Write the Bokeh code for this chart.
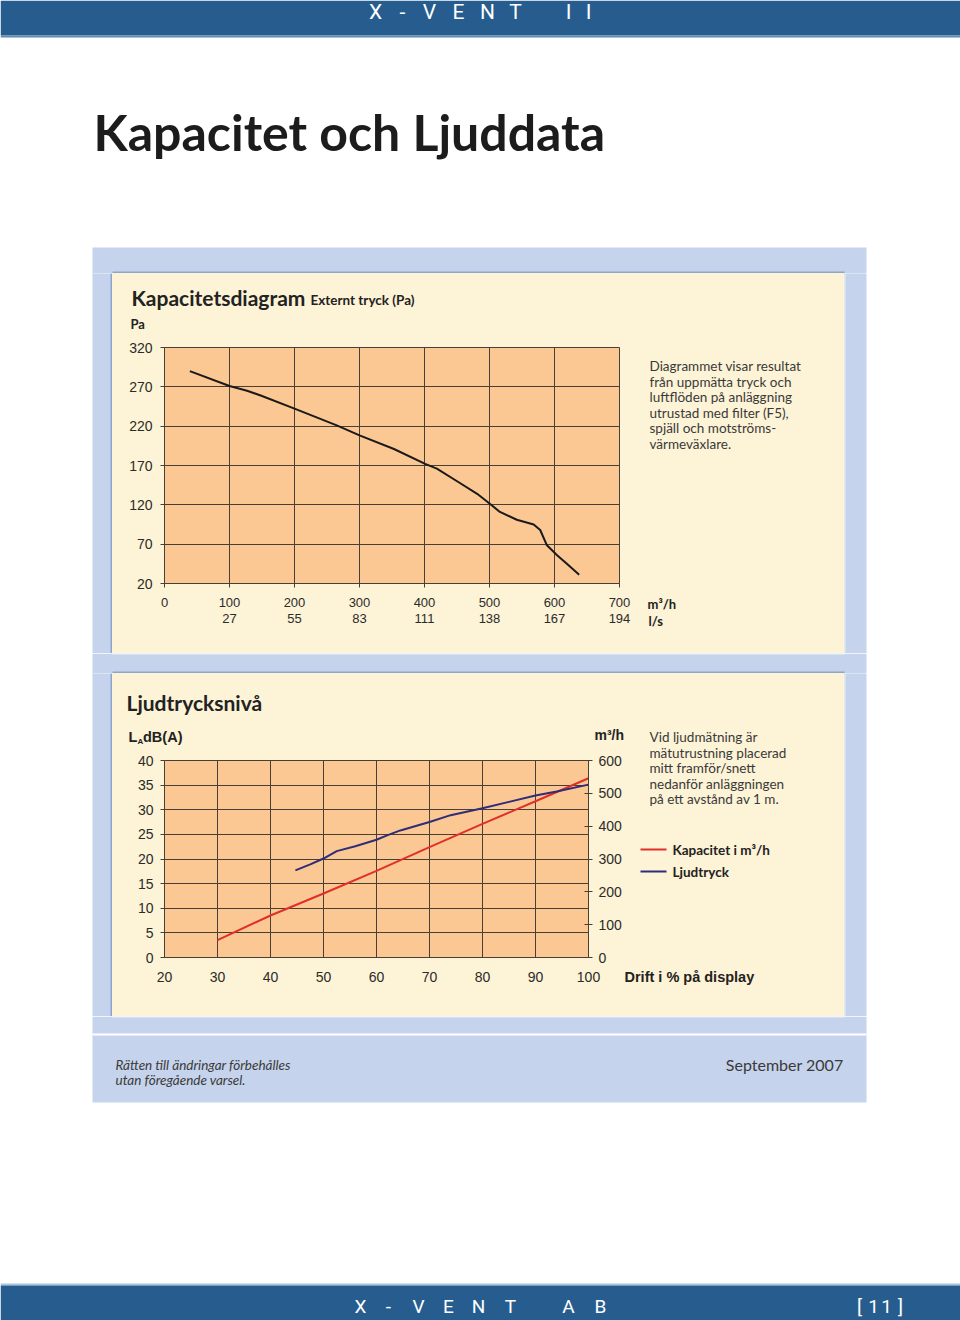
from bokeh.plotting import figure
from bokeh.layouts import column, row
from bokeh.models import Range1d, LinearAxis, FixedTicker
from bokeh.core.properties import value
from bokeh.embed import file_html
from bokeh.resources import INLINE

# ---------------- data ----------------
flow_ticks = [0, 100, 200, 300, 400, 500, 600, 700]
flow_ls_labels = ["", "27", "55", "83", "111", "138", "167", "194"]
pressure_ticks = [20, 70, 120, 170, 220, 270, 320]
curve_flow = [39, 100, 127, 148, 201, 265, 301, 353, 401, 419, 452, 481, 501,
              516, 542, 568, 578, 588, 604, 619, 638]
curve_pa = [290, 271, 265, 259, 242, 221, 208, 191, 172, 166, 149, 134, 121,
            111, 101, 95, 88, 69, 56, 45, 31]

drift_ticks = [20, 30, 40, 50, 60, 70, 80, 90, 100]
db_ticks = [0, 5, 10, 15, 20, 25, 30, 35, 40]
cap_ticks = [0, 100, 200, 300, 400, 500, 600]
drift_cap = [30, 40, 50, 60, 70, 80, 90, 100]
cap_m3h = [53, 128, 195, 264, 336, 407, 476, 546]
drift_db = [44.7, 47.5, 50, 52.5, 56, 60, 62, 64.5, 70, 74, 80, 85, 90, 94, 100]
ljud_db = [17.7, 18.9, 20.1, 21.6, 22.6, 23.9, 24.8, 25.8, 27.5, 28.9, 30.3,
           31.6, 32.9, 33.7, 35.1]

legend_labels = ["Kapacitet i m³/h", "Ljudtryck"]
desc1 = ["Diagrammet visar resultat", "från uppmätta tryck och",
         "luftflöden på anläggning", "utrustad med filter (F5),",
         "spjäll och motströms-", "värmeväxlare."]
desc2 = ["Vid ljudmätning är", "mätutrustning placerad", "mitt framför/snett",
         "nedanför anläggningen", "på ett avstånd av 1 m."]

# ---------------- styles ----------------
BANNER = "#275d8e"
BANNER_LINE = "#5f8bb4"
BOX = "#c6d3ec"
CREAM = "#fdf3d6"
PEACH = "#fbc793"
GRID = "#4a3f35"
EDGE = "#8ea4d0"
RED = "#e0302a"
NAVY = "#2f2c78"
TXT = "#222222"
GREY = "#3a3a3a"
HUM = "Lato"
ARIAL = "Liberation Sans"
COND = "Roboto"
SHIFT = 0.37  # baseline correction (fraction of font size)


def deco(w, h, bg="white"):
    p = figure(width=w, height=h, x_range=Range1d(0, w), y_range=Range1d(h, 0),
               output_backend="svg", toolbar_location=None, min_border=0,
               x_axis_location=None, y_axis_location=None,
               background_fill_color=bg, border_fill_color=bg,
               outline_line_color=None, frame_align=False)
    p.grid.grid_line_color = None
    return p


def box(p, l, r, t, b, color):
    p.quad(left=[l], right=[r], top=[t], bottom=[b], fill_color=color,
           line_color=None)


def txt(p, x, y, s, size, font=HUM, style="normal", color=TXT, align="left"):
    p.text(x=[x], y=[y - SHIFT * size], text=[s], text_font=value(font),
           text_font_size=f"{size}px", text_font_style=style,
           text_color=color, text_align=align, text_baseline="alphabetic")


def spaced(p, chars, xs, y, size, color="white"):
    p.text(x=xs, y=[y - SHIFT * size] * len(xs), text=chars,
           text_font=value(COND), text_font_size=f"{size}px",
           text_color=color, text_align="center", text_baseline="alphabetic")


def style_axis(ax, size, tick_out, standoff):
    ax.axis_line_color = GRID
    ax.major_tick_line_color = GRID
    ax.major_tick_out = tick_out
    ax.major_tick_in = 0
    ax.minor_tick_line_color = None
    ax.major_label_text_font = ARIAL
    ax.major_label_text_font_size = f"{size}px"
    ax.major_label_text_color = "#2b2b2b"
    ax.major_label_standoff = standoff


# ---------------- header (page y 0..273) ----------------
head = deco(960, 273)
box(head, 0, 960, 0, 35, BANNER)
box(head, 0, 960, 35, 37, BANNER_LINE)
spaced(head, list("X-VENTII"), [375, 402, 429, 458, 487, 515, 568, 588], 19, 21)
txt(head, 93, 150, "Kapacitet och Ljuddata", 50, style="bold", color="#1c1c1c")
box(head, 92, 866, 247, 273, BOX)
box(head, 112, 844, 271, 273, EDGE)


# ---------------- side strips ----------------
def left_strip(h):
    p = deco(112, h)
    box(p, 92, 112, 0, h, BOX)
    box(p, 110, 112, 0, h, EDGE)
    return p


def right_strip(h):
    p = deco(116, h)
    box(p, 0, 22, 0, h, BOX)
    box(p, 0, 1, 0, h, "#eef1f8")
    return p


# ---------------- chart 1 block (page y 273..653, x 112..844) ----------------
top1 = deco(528, 62, CREAM)
txt(top1, 19, 32, "Kapacitetsdiagram", 21, style="bold")
txt(top1, 198, 31, "Externt tryck (Pa)", 13.5, style="bold")
txt(top1, 18, 55, "Pa", 13, style="bold")

c1 = figure(width=528, height=318, x_range=Range1d(0, 700),
            y_range=Range1d(20, 320), output_backend="svg",
            toolbar_location=None, min_border_left=52, min_border_right=21,
            min_border_top=12, min_border_bottom=70, frame_align=False,
            background_fill_color=PEACH, border_fill_color=CREAM,
            outline_line_color=GRID, outline_line_width=1)
c1.xaxis.ticker = FixedTicker(ticks=flow_ticks)
c1.yaxis.ticker = FixedTicker(ticks=pressure_ticks)
c1.xgrid.ticker = FixedTicker(ticks=flow_ticks)
c1.ygrid.ticker = FixedTicker(ticks=pressure_ticks)
c1.grid.grid_line_color = GRID
c1.grid.grid_line_width = 1
style_axis(c1.xaxis[0], 13, 4, 10)
style_axis(c1.yaxis[0], 14, 4, 8)
ax2 = LinearAxis(ticker=FixedTicker(ticks=flow_ticks),
                 major_label_overrides={t: s for t, s in zip(flow_ticks, flow_ls_labels)},
                 major_tick_out=0, major_tick_in=0, axis_line_color=None,
                 minor_tick_line_color=None, major_label_standoff=4,
                 major_label_text_font=ARIAL, major_label_text_font_size="13px",
                 major_label_text_color="#2b2b2b")
c1.add_layout(ax2, "below")
c1.line(curve_flow, curve_pa, line_color="#1a1a1a", line_width=2)

right1 = deco(204, 380, CREAM)
for i, s in enumerate(desc1):
    txt(right1, 9, 97.5 + i * 15.5, s, 13.5, color=GREY)
txt(right1, 7, 335, "m³/h", 13, style="bold")
txt(right1, 8, 352, "l/s", 13, style="bold")

# ---------------- middle strip (page y 653..673) ----------------
mid = deco(960, 20)
box(mid, 92, 866, 0, 20, BOX)
box(mid, 112, 844, 18, 20, EDGE)
box(mid, 112, 844, 0, 1, "#eef1f8")

# ---------------- chart 2 block (page y 673..1016) ----------------
top2 = deco(512, 75, CREAM)
txt(top2, 14, 37, "Ljudtrycksnivå", 21, style="bold")
txt(top2, 16, 69, "L", 14.5, font=ARIAL, style="bold")
txt(top2, 25, 71, "A", 8, font=ARIAL, style="bold")
txt(top2, 30.5, 69, "dB(A)", 14.5, font=ARIAL, style="bold")
txt(top2, 482, 67, "m³/h", 14, font=ARIAL, style="bold")

c2 = figure(width=512, height=268, x_range=Range1d(20, 100),
            y_range=Range1d(0, 40), output_backend="svg",
            toolbar_location=None, min_border_left=52, min_border_right=35,
            min_border_top=12, min_border_bottom=59, frame_align=False,
            background_fill_color=PEACH, border_fill_color=CREAM,
            outline_line_color=GRID, outline_line_width=1)
c2.extra_y_ranges = {"cap": Range1d(0, 600)}
c2.xaxis.ticker = FixedTicker(ticks=drift_ticks)
c2.yaxis.ticker = FixedTicker(ticks=db_ticks)
c2.xgrid.ticker = FixedTicker(ticks=drift_ticks)
c2.ygrid.ticker = FixedTicker(ticks=db_ticks)
c2.grid.grid_line_color = GRID
c2.grid.grid_line_width = 1
style_axis(c2.xaxis[0], 14, 0, 14)
style_axis(c2.yaxis[0], 14, 4, 7)
rax = LinearAxis(y_range_name="cap", ticker=FixedTicker(ticks=cap_ticks))
style_axis(rax, 14, 4, 6)
rax.major_tick_in = 4
c2.add_layout(rax, "right")
c2.line(drift_cap, cap_m3h, y_range_name="cap", line_color=RED, line_width=2)
c2.line(drift_db, ljud_db, line_color=NAVY, line_width=2)

right2 = deco(220, 343, CREAM)
for i, s in enumerate(desc2):
    txt(right2, 25, 68.5 + i * 15.5, s, 13.5, color=GREY)
for i, (s, col) in enumerate(zip(legend_labels, [RED, NAVY])):
    yy = 176 + i * 22
    right2.segment(x0=[16], x1=[42], y0=[yy], y1=[yy], line_color=col,
                   line_width=2)
    txt(right2, 48, yy + 5, s, 13.5, style="bold")
txt(right2, 0, 309, "Drift i % på display", 14.5, font=ARIAL, style="bold")

# ---------------- footer (page y 1016..1320) ----------------
foot = deco(960, 304)
box(foot, 92, 866, 0, 86, BOX)
box(foot, 92, 866, 17, 19, "white")
box(foot, 112, 844, 0, 1, "#eef1f8")
txt(foot, 115, 53, "Rätten till ändringar förbehålles", 13.5, style="italic",
    color=GREY)
txt(foot, 115, 68, "utan föregående varsel.", 13.5, style="italic", color=GREY)
txt(foot, 843, 54, "September 2007", 16, color=GREY, align="right")
box(foot, 0, 960, 267, 269, "#a9c3da")
box(foot, 0, 960, 269, 304, BANNER)
spaced(foot, list("X-VENTAB"), [360, 388, 418, 448, 478, 510, 568, 600], 297, 19)
spaced(foot, list("[11]"), [859, 873, 886, 900], 297, 19)

cream_bg = {"background-color": CREAM}
stripe_bg = {"background": (f"linear-gradient(to right, white 0px, white 92px, "
                            f"{BOX} 92px, {BOX} 112px, {CREAM} 112px, "
                            f"{CREAM} 844px, {BOX} 844px, {BOX} 866px, "
                            f"white 866px, white 960px)")}
block1 = row(left_strip(380), column(top1, c1, styles=cream_bg), right1,
             right_strip(380), styles=stripe_bg)
block2 = row(left_strip(343), column(top2, c2, styles=cream_bg), right2,
             right_strip(343), styles=stripe_bg)
page = column(head, block1, mid, block2, foot)

open("out.html", "w").write(file_html(page, INLINE))
